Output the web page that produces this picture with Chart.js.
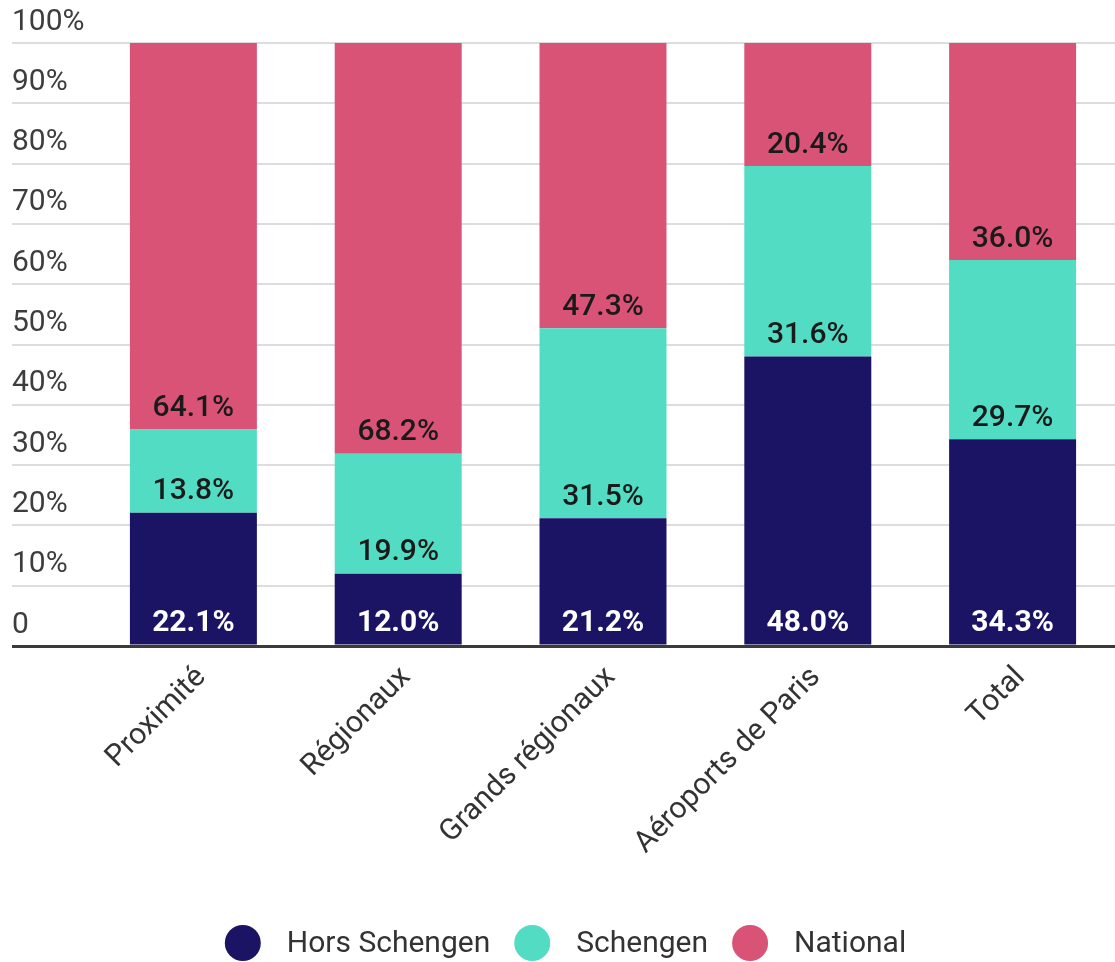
<!DOCTYPE html>
<html>
<head>
<meta charset="utf-8">
<title>Répartition du trafic</title>
<script src="https://cdn.jsdelivr.net/npm/chart.js@4.4.1/dist/chart.umd.min.js"></script>
<style>
  html, body { margin: 0; padding: 0; background: #fff; }
  #wrap { width: 1115px; height: 962px; position: relative; }
</style>
</head>
<body>
<div id="wrap"><canvas id="trafficChart"></canvas></div>
<script>
// Data
const categories = ['Proximité', 'Régionaux', 'Grands régionaux', 'Aéroports de Paris', 'Total'];
const seriesNames = ['Hors Schengen', 'Schengen', 'National'];
const horsSchengen = [22.1, 12.0, 21.2, 48.0, 34.3];
const schengen = [13.8, 19.9, 31.5, 31.6, 29.7];
const national = [64.1, 68.2, 47.3, 20.4, 36.0];
const yTicks = [0, 10, 20, 30, 40, 50, 60, 70, 80, 90, 100];

const colors = ['#1b1464', '#52dcc4', '#d95376'];
const FONT = 'Roboto';

// value labels at the bottom of every segment
const segmentLabels = {
  id: 'segmentLabels',
  afterDatasetsDraw(chart) {
    const ctx = chart.ctx;
    ctx.save();
    ctx.textAlign = 'center';
    ctx.textBaseline = 'middle';
    chart.data.datasets.forEach((ds, i) => {
      const meta = chart.getDatasetMeta(i);
      meta.data.forEach((bar, j) => {
        if (i === 0) {
          ctx.fillStyle = '#ffffff';
          ctx.font = 'bold 30px ' + FONT;
        } else {
          ctx.fillStyle = '#1a1a1a';
          ctx.font = '500 30px ' + FONT;
        }
        ctx.fillText(ds.data[j].toFixed(1) + '%', bar.x, bar.base - 21);
      });
    });
    ctx.restore();
  }
};

// legend drawn by hand so the circle / text spacing matches
const bottomLegend = {
  id: 'bottomLegend',
  afterDraw(chart) {
    const ctx = chart.ctx;
    const r = 18, gapText = 26, gapItem = 24;
    const y = chart.height - 19;
    ctx.save();
    ctx.font = '30px ' + FONT;
    ctx.textBaseline = 'middle';
    ctx.textAlign = 'left';
    const items = chart.data.datasets.map(ds => ({
      label: ds.label, color: ds.backgroundColor, w: ctx.measureText(ds.label).width
    }));
    let total = 0;
    items.forEach((it, k) => { total += r * 2 + gapText + it.w + (k < items.length - 1 ? gapItem : 0); });
    let x = (chart.width - total) / 2 + 8;
    items.forEach(it => {
      ctx.fillStyle = it.color;
      ctx.beginPath();
      ctx.arc(x + r, y, r, 0, Math.PI * 2);
      ctx.fill();
      ctx.fillStyle = '#333';
      ctx.fillText(it.label, x + r * 2 + gapText, y + 1);
      x += r * 2 + gapText + it.w + gapItem;
    });
    ctx.restore();
  }
};

const ctx = document.getElementById('trafficChart').getContext('2d');
new Chart(ctx, {
  type: 'bar',
  data: {
    labels: categories,
    datasets: [
      { label: seriesNames[0], data: horsSchengen, backgroundColor: colors[0] },
      { label: seriesNames[1], data: schengen, backgroundColor: colors[1] },
      { label: seriesNames[2], data: national, backgroundColor: colors[2] }
    ]
  },
  options: {
    responsive: true,
    maintainAspectRatio: false,
    animation: false,
    datasets: {
      bar: { barPercentage: 0.62, categoryPercentage: 1 }
    },
    layout: { padding: { top: 43, left: 12, right: 0, bottom: 76 } },
    scales: {
      x: {
        stacked: true,
        grid: { display: false },
        border: { display: false },
        ticks: {
          color: '#333',
          font: { family: FONT, size: 30 },
          minRotation: 45,
          maxRotation: 45,
          labelOffset: 8,
          padding: 6
        },
        afterFit(scale) { scale.height = 240; }
      },
      y: {
        stacked: true,
        min: 0,
        max: 100,
        afterBuildTicks(scale) { scale.ticks = yTicks.map(v => ({ value: v })); },
        border: { display: false },
        grid: {
          color: c => (c.tick && c.tick.value === 0) ? '#3a3a3a' : '#dddddd',
          lineWidth: c => (c.tick && c.tick.value === 0) ? 3 : 2,
          drawTicks: true,
          tickLength: 79
        },
        ticks: {
          crossAlign: 'far',
          labelOffset: -21,
          color: '#3d3d3d',
          font: { family: FONT, size: 30 },
          callback: v => v === 0 ? '0' : v + '%'
        },
        afterFit(scale) { scale.width = 79; }
      }
    },
    plugins: {
      legend: { display: false },
      tooltip: { enabled: false }
    }
  },
  plugins: [segmentLabels, bottomLegend]
});
</script>
</body>
</html>
